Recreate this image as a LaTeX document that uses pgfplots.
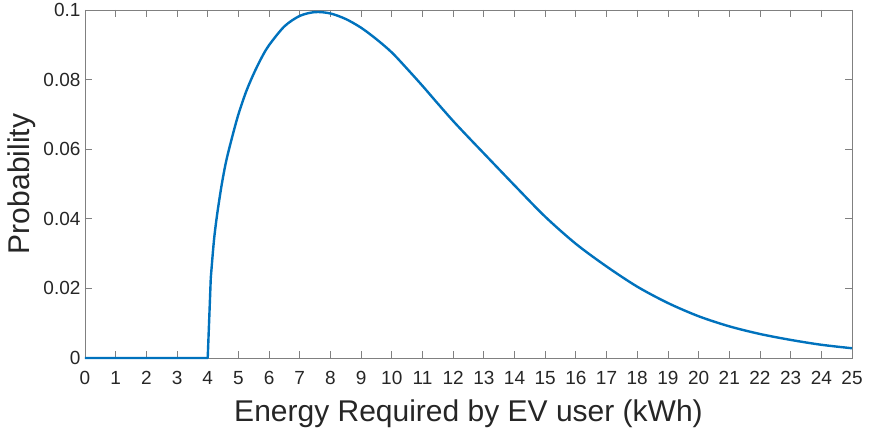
\documentclass[border=0pt]{standalone}
\usepackage{pgfplots}
\pgfplotsset{compat=1.18}
\usepackage{fontspec}
\setmainfont{Liberation Sans}
\definecolor{mblue}{HTML}{0072BD}
\definecolor{axgray}{HTML}{808080}
\begin{document}
\begin{tikzpicture}
\begin{axis}[
  scale only axis,
  width=767pt, height=348pt,
  xmin=0, xmax=25, ymin=0, ymax=0.1,
  xtick={0,1,...,25},
  ytick={0,0.02,0.04,0.06,0.08,0.1},
  yticklabels={0,0.02,0.04,0.06,0.08,0.1},
  axis line style={axgray, line width=0.9pt},
  tick style={axgray, line width=0.8pt},
  major tick length=7pt,
  tick align=inside,
  tick pos=both,
  ticklabel style={font=\fontsize{19}{20}\selectfont, text=black!85},
  /pgf/number format/assume math mode=true,
  xticklabel style={yshift=-10pt},
  yticklabel style={xshift=-1pt},
  xlabel={Energy Required by EV user (kWh)},
  ylabel={Probability},
  label style={font=\fontsize{30}{32}\selectfont, text=black!85},
  xlabel style={yshift=-8pt},
  ylabel style={yshift=1pt},
  clip=false,
]
\addplot[mblue, line width=2.4pt, line join=round] coordinates {
(0,0) (4,0) (4.1,0.0230)
};
\addplot[mblue, line width=2.4pt, smooth, tension=0.5, line join=round] coordinates {
(4.1,0.0230) (4.2,0.0335) (4.3,0.0408) (4.45,0.0495) (4.6,0.0565)
(4.8,0.0636) (5.0,0.0700) (5.25,0.0765) (5.5,0.0817) (5.75,0.0862)
(6.0,0.0899) (6.5,0.0953) (7.0,0.0983) (7.5,0.0994) (8.0,0.0990)
(8.5,0.0974) (9.0,0.0949) (9.5,0.0916) (10,0.0878) (10.5,0.0831)
(11,0.0782) (11.5,0.0731) (12,0.0681) (12.5,0.0634) (13,0.0588)
(14,0.0496) (15,0.0406) (16,0.0328) (17,0.0263) (18,0.0205)
(19,0.0158) (20,0.0120) (21,0.0091) (22,0.0069) (23,0.0052)
(24,0.0038) (25,0.0028)
};
\end{axis}
\pgfresetboundingbox
\path (-85pt,-75pt) rectangle (788pt,358pt);
\end{tikzpicture}
\end{document}
